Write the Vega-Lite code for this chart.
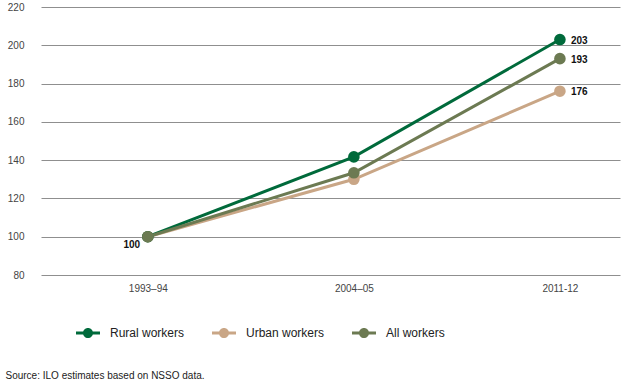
{
  "$schema": "https://vega.github.io/schema/vega-lite/v6.json",
  "width": 579,
  "height": 268,
  "autosize": "none",
  "padding": {"left": 41, "top": 7, "right": 6, "bottom": 112},
  "background": "white",
  "config": {"view": {"stroke": null}, "font": "Liberation Sans"},
  "data": {
    "values": [
      {"series": "Urban workers", "year": "1993–94", "value": 100},
      {"series": "Urban workers", "year": "2004–05", "value": 130},
      {"series": "Urban workers", "year": "2011-12", "value": 176},
      {"series": "Rural workers", "year": "1993–94", "value": 100},
      {"series": "Rural workers", "year": "2004–05", "value": 141.7},
      {"series": "Rural workers", "year": "2011-12", "value": 203},
      {"series": "All workers", "year": "1993–94", "value": 100},
      {"series": "All workers", "year": "2004–05", "value": 133.4},
      {"series": "All workers", "year": "2011-12", "value": 193}
    ]
  },
  "encoding": {
    "x": {
      "field": "year",
      "type": "ordinal",
      "sort": ["1993–94", "2004–05", "2011-12"],
      "scale": {"type": "point", "padding": 0.405, "align": 0.64},
      "axis": {
        "title": "Source: ILO estimates based on NSSO data.",
        "titleX": -36,
        "titleY": 100,
        "titleAlign": "left",
        "titleAnchor": null,
        "titleBaseline": "middle",
        "titleFontSize": 10,
        "titleFontWeight": "normal",
        "titleColor": "#222",
        "titleFont": "Liberation Sans",
        "domain": false,
        "ticks": false,
        "grid": false,
        "labelAngle": 0,
        "labelPadding": 8,
        "labelFontSize": 10,
        "labelColor": "#444",
        "labelFont": "Liberation Sans"
      }
    },
    "y": {
      "field": "value",
      "type": "quantitative",
      "scale": {"domain": [80, 220], "nice": false, "zero": false},
      "axis": {
        "title": null,
        "domain": false,
        "ticks": false,
        "values": [80, 100, 120, 140, 160, 180, 200, 220],
        "grid": true,
        "gridColor": "#8f8f8f",
        "gridWidth": 1,
        "labelPadding": 17,
        "labelFontSize": 10,
        "labelColor": "#444",
        "labelFont": "Liberation Sans"
      }
    },
    "color": {
      "field": "series",
      "type": "nominal",
      "scale": {
        "domain": ["Rural workers", "Urban workers", "All workers"],
        "range": ["#006a3b", "#c9a686", "#6c7a52"]
      },
      "legend": {
        "orient": "none",
        "legendX": 35,
        "legendY": 314,
        "direction": "horizontal",
        "title": null,
        "padding": 0,
        "symbolType": "M-1,-0.12L1,-0.12L1,0.12L-1,0.12Z M0.42,0A0.42,0.42 0 1,1 -0.42,0A0.42,0.42 0 1,1 0.42,0Z",
        "symbolSize": 576,
        "symbolStrokeWidth": 0,
        "labelFontSize": 12,
        "labelFont": "Liberation Sans",
        "labelColor": "#222",
        "labelOffset": 10,
        "columnPadding": 27,
        "encode": {"symbols": {"update": {"fill": {"scale": "color", "field": "value"}, "opacity": {"value": 1}}}}
      }
    }
  },
  "layer": [
    {"mark": {"type": "line", "strokeWidth": 3}},
    {"mark": {"type": "point", "filled": true, "size": 135, "opacity": 1}},
    {
      "transform": [{"filter": "datum.year == '2011-12'"}],
      "mark": {"type": "text", "align": "left", "baseline": "middle", "dx": 11, "dy": 1, "fontSize": 10, "fontWeight": "bold", "font": "Liberation Sans"},
      "encoding": {"text": {"field": "value", "type": "quantitative"}, "color": {"value": "#111"}}
    },
    {
      "transform": [{"filter": "datum.year == '1993–94' && datum.series == 'All workers'"}],
      "mark": {"type": "text", "align": "center", "baseline": "middle", "dx": -16, "dy": 8, "fontSize": 10, "fontWeight": "bold", "font": "Liberation Sans"},
      "encoding": {"text": {"field": "value", "type": "quantitative"}, "color": {"value": "#111"}}
    }
  ]
}
